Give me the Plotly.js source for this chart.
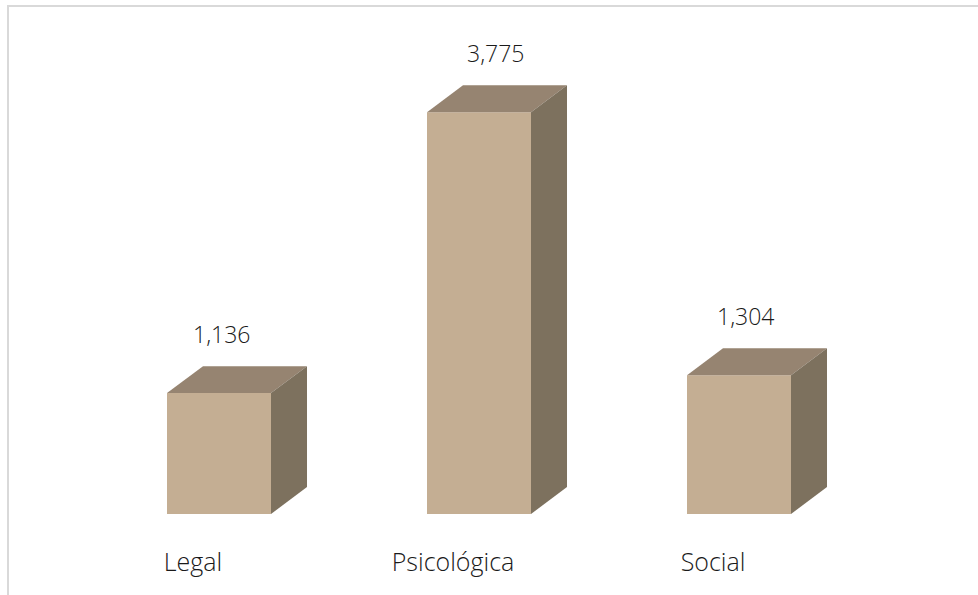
<!DOCTYPE html>
<html>
<head>
<meta charset="utf-8">
<script src="https://cdn.plot.ly/plotly-3.0.1.min.js"></script>
<style>
html,body{margin:0;padding:0;background:#fff;overflow:hidden;}
#chart{width:978px;height:595px;}
#frame{position:absolute;left:7px;top:5px;width:1000px;height:620px;border-left:2px solid #d9d9d9;border-top:2px solid #d9d9d9;pointer-events:none;}
</style>
</head>
<body>
<div id="chart"></div>
<div id="frame"></div>
<script>
const categories = ["Legal", "Psicológica", "Social"];
const values = [1136, 3775, 1304];
const valueLabels = ["1,136", "3,775", "1,304"];

const xs = categories.map((c, i) => i);
const halfW = 0.2;      // half bar width (category units)
const depthX = 0.1385;  // 3D depth in x units
const depthY = 253;     // 3D depth in value units

const frontColor = "#c4ae93";
const topColor = "#968471";
const sideColor = "#7d715e";

const traces = [{
  type: "bar", x: xs, y: values, width: 2 * halfW,
  marker: {color: frontColor, line: {width: 0}},
  hoverinfo: "skip", showlegend: false
}];

xs.forEach((x, i) => {
  const v = values[i];
  traces.push({
    type: "scatter", mode: "none", fill: "toself", fillcolor: topColor,
    x: [x - halfW, x - halfW + depthX, x + halfW + depthX, x + halfW, x - halfW],
    y: [v, v + depthY, v + depthY, v, v],
    hoverinfo: "skip", showlegend: false
  });
  traces.push({
    type: "scatter", mode: "none", fill: "toself", fillcolor: sideColor,
    x: [x + halfW, x + halfW, x + halfW + depthX, x + halfW + depthX, x + halfW],
    y: [0, v, v + depthY, depthY, 0],
    hoverinfo: "skip", showlegend: false
  });
});

const labelShift = [2, 16, 6];
const annotations = xs.map((x, i) => ({
  x: x, y: values[i] + depthY, xref: "x", yref: "y",
  text: valueLabels[i], showarrow: false,
  xanchor: "center", yanchor: "middle", xshift: labelShift[i], yshift: 32,
  font: {family: "Open Sans", size: 23, weight: 300, color: "#1a1a1a"}
}));

const layout = {
  width: 978, height: 595,
  margin: {l: 11, r: 31, t: 35, b: 81},
  paper_bgcolor: "#fff", plot_bgcolor: "#fff",
  xaxis: {
    range: [-0.8, 2.8], tickvals: xs, ticktext: categories,
    showgrid: false, zeroline: false, showline: false, ticks: "",
    ticklabelshift: -26, ticklabelstandoff: 31,
    tickfont: {family: "Open Sans", size: 25, weight: 300, color: "#1a1a1a"},
    fixedrange: true
  },
  yaxis: {
    range: [0, 4500], showgrid: false, zeroline: false, showline: false,
    showticklabels: false, ticks: "", fixedrange: true
  },
  annotations: annotations,
  showlegend: false
};

Plotly.newPlot("chart", traces, layout, {displayModeBar: false, staticPlot: true});
</script>
</body>
</html>
